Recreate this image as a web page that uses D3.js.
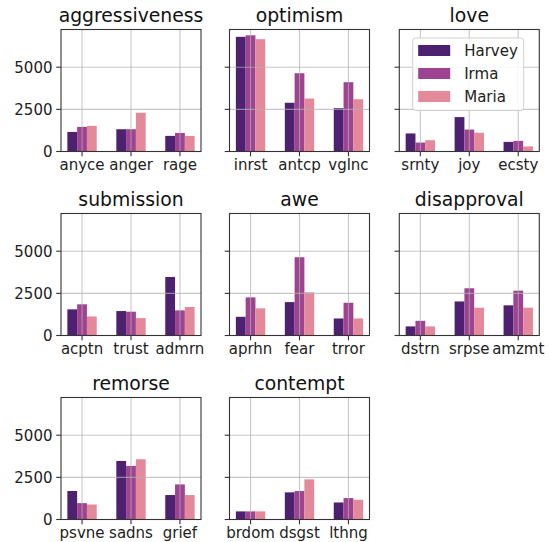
<!DOCTYPE html>
<html><head><meta charset="utf-8">
<script src="https://cdn.jsdelivr.net/npm/d3@7"></script>
<style>body{margin:0;background:#fff;} svg{display:block;} text{font-family:"DejaVu Sans",sans-serif;}</style>
</head><body>
<svg id="c" width="551" height="542"></svg>
<script>
const groups = ["aggressiveness","optimism","love","submission","awe","disapproval","remorse","contempt"];
const categories = [["anyce","anger","rage"],["inrst","antcp","vglnc"],["srnty","joy","ecsty"],["acptn","trust","admrn"],["aprhn","fear","trror"],["dstrn","srpse","amzmt"],["psvne","sadns","grief"],["brdom","dsgst","lthng"]];
const seriesNames = ["Harvey","Irma","Maria"];
const harvey = [1160,1320,925, 6800,2890,2570, 1070,2040,570, 1550,1450,3470, 1110,1980,1010, 540,2020,1790, 1690,3470,1450, 480,1610,1010];
const irma   = [1460,1320,1100, 6890,4640,4110, 530,1300,630, 1850,1410,1490, 2260,4640,1940, 870,2800,2660, 970,3180,2080, 480,1690,1270];
const maria  = [1520,2300,925, 6660,3140,3100, 670,1110,300, 1130,1030,1690, 1610,2560,1010, 540,1650,1650, 890,3570,1450, 480,2380,1170];
const yTicks = [0,2500,5000];
const colors = ["#4e2070","#9d4391","#e3899a"];

const series = [harvey, irma, maria];
const svg = d3.select("#c");
const lefts = [61, 229.5, 399.3];
const W = 140, H = 122;
const tops = [29.5, 213.5, 397.5];
const ymax = d3.max(series.flat()) * 1.05;
const y = d3.scaleLinear().domain([0, ymax]).range([H, 0]);
const x = d3.scaleLinear().domain([-0.43, 2.43]).range([0, W]);
const bw = 0.2;

groups.forEach((g, gi) => {
  const col = gi % 3, row = Math.floor(gi / 3);
  const p = svg.append("g").attr("transform", `translate(${lefts[col]},${tops[row]})`);
  // bars
  series.forEach((s, si) => {
    p.selectAll(null).data(categories[gi]).enter().append("rect")
      .attr("x", (d, i) => x(i + (si - 1) * bw - bw / 2))
      .attr("width", x(bw) - x(0))
      .attr("y", (d, i) => y(s[gi * 3 + i]))
      .attr("height", (d, i) => H - y(s[gi * 3 + i]))
      .attr("fill", colors[si]);
  });
  // grid
  p.selectAll(null).data(yTicks).enter().append("line")
    .attr("x1", 0).attr("x2", W).attr("y1", d => y(d)).attr("y2", d => y(d))
    .attr("stroke", "#b0b0b0").attr("stroke-opacity", 0.7).attr("stroke-width", 1.1);
  p.selectAll(null).data(categories[gi]).enter().append("line")
    .attr("x1", (d, i) => x(i)).attr("x2", (d, i) => x(i)).attr("y1", 0).attr("y2", H)
    .attr("stroke", "#b0b0b0").attr("stroke-opacity", 0.7).attr("stroke-width", 1.1);
  // frame
  p.append("rect").attr("x", 0).attr("y", 0).attr("width", W).attr("height", H)
    .attr("fill", "none").attr("stroke", "#333").attr("stroke-width", 1.1);
  // y ticks
  p.selectAll(null).data(yTicks).enter().append("line")
    .attr("x1", -4.8).attr("x2", 0).attr("y1", d => y(d)).attr("y2", d => y(d))
    .attr("stroke", "#333").attr("stroke-width", 1.1);
  if (col === 0) {
    p.selectAll(null).data(yTicks).enter().append("text")
      .attr("x", -8.5).attr("y", d => y(d)).attr("dy", "0.36em")
      .attr("text-anchor", "end").attr("font-size", "15px").attr("fill", "#222")
      .text(d => d);
  }
  // x ticks
  p.selectAll(null).data(categories[gi]).enter().append("line")
    .attr("x1", (d, i) => x(i)).attr("x2", (d, i) => x(i)).attr("y1", H).attr("y2", H + 4.8)
    .attr("stroke", "#333").attr("stroke-width", 1.1);
  p.selectAll(null).data(categories[gi]).enter().append("text")
    .attr("x", (d, i) => x(i)).attr("y", H + 18.5)
    .attr("text-anchor", "middle").attr("font-size", "15px").attr("fill", "#222")
    .text(d => d);
  // title
  p.append("text").attr("x", W / 2).attr("y", -7.5).attr("text-anchor", "middle")
    .attr("font-size", "18.8px").attr("fill", "#111").text(g);
  // legend
  if (gi === 2) {
    const lg = p.append("g").attr("transform", `translate(${412.7 - lefts[2]},${38 - tops[0]})`);
    lg.append("rect").attr("x", 0).attr("y", 0).attr("width", 111).attr("height", 72.5)
      .attr("rx", 3).attr("fill", "#fff").attr("fill-opacity", 0.85)
      .attr("stroke", "#d0d0d0").attr("stroke-width", 1);
    seriesNames.forEach((n, si) => {
      lg.append("rect").attr("x", 5.5).attr("y", 7 + si * 23).attr("width", 32).attr("height", 11)
        .attr("fill", colors[si]);
      lg.append("text").attr("x", 51.5).attr("y", 12.5 + si * 23).attr("dy", "0.36em")
        .attr("font-size", "15px").attr("fill", "#222").text(n);
    });
  }
});
</script>
</body></html>
